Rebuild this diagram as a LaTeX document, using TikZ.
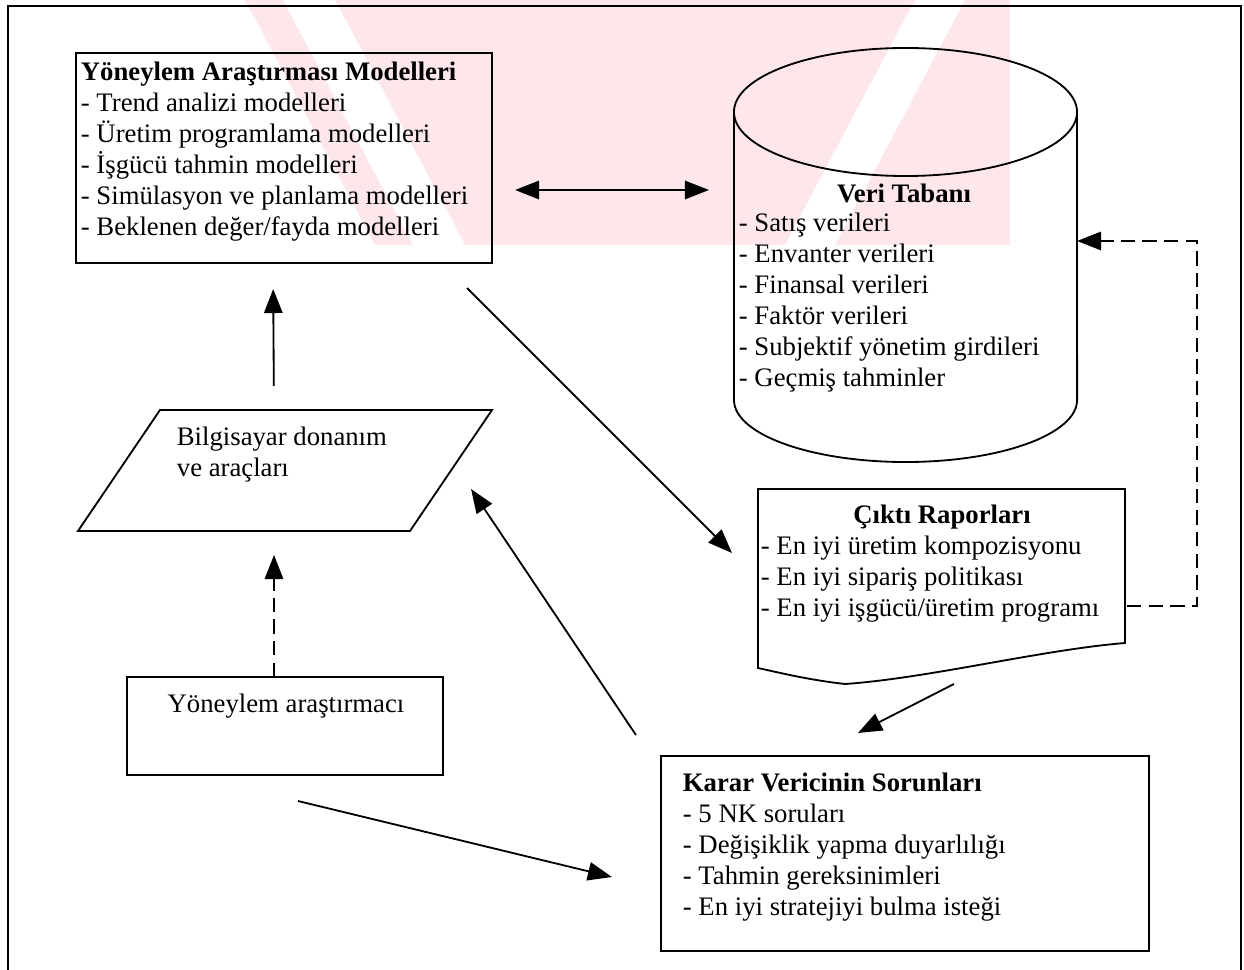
\documentclass[tikz,border=0pt]{standalone}
\usepackage{fontspec}
\setmainfont{Liberation Serif}
\usetikzlibrary{arrows.meta,calc}
\definecolor{wmpink}{RGB}{253,231,235}
\newcommand\mystrut{\rule{0pt}{18pt}}
\begin{document}
\begin{tikzpicture}[x=0.025cm,y=-0.025cm,
  line width=1.3pt,
  arr/.style={-{Triangle[length=0.6cm,width=0.46cm]}},
  darr/.style={{Triangle[length=0.6cm,width=0.46cm]}-{Triangle[length=0.6cm,width=0.46cm]}},
  dsh/.style={dash pattern=on 0.36cm off 0.18cm},
  hold/.style={inner sep=0pt, outer sep=0pt},
  box/.style={draw, inner sep=0pt, outer sep=0pt},
  txt/.style={inner sep=0pt, anchor=north west, align=left, font=\fontsize{19}{22}\selectfont},
  ctxt/.style={inner sep=0pt, anchor=north, align=center, font=\fontsize{19}{22}\selectfont},
]
\useasboundingbox (0,0) rectangle (1244,970);

% background emblem
\begin{scope}
  \clip (0,0) rectangle (1244,245);
  \fill[wmpink] (245,0) -- (1010,0) -- (1010,245) -- (375,245) -- cycle;
  \fill[white] (283,0) -- (335,0) -- (465,245) -- (413,245) -- cycle;
  \fill[white] (915,0) -- (965,0) -- (835,245) -- (785,245) -- cycle;
\end{scope}

% outer frame
\draw[line width=1.2pt] (8,970) -- (8,6) -- (1241,6) -- (1241,970);

% boxes
\node[box, minimum width=10.4cm, minimum height=5.25cm] (ar) at (284,158) {};
\node[box, minimum width=7.9cm, minimum height=2.45cm] (yar) at (285,726) {};
\node[box, minimum width=12.2cm, minimum height=4.875cm] (karar) at (905,853.5) {};

% database cylinder
\node[hold, minimum width=8.575cm, minimum height=10.35cm] (db) at (905.5,255) {};
\draw (905.5,112) ellipse [x radius=4.2875cm, y radius=1.6cm];
\draw (734,112) -- (734,400) arc[start angle=180, end angle=360, x radius=4.2875cm, y radius=1.55cm] -- (1077,112);

% report document
\node[hold, minimum width=9.175cm, minimum height=4.875cm] (cik) at (941.5,586.5) {};
\draw[line join=miter] (758,668) -- (758,489) -- (1125,489) -- (1125,643)
  .. controls (1040,650) and (930,678) .. (845,684)
  .. controls (810,680) and (785,674) .. (758,668) -- cycle;

% hardware parallelogram
\node[hold, minimum width=10.35cm, minimum height=3.025cm] (par) at (285,470.5) {};
\draw (160,410) -- (492,410) -- (410,531) -- (78,531) -- cycle;

% texts
\node[txt] (arT) at (80,54.7) {\mystrut\textbf{Yöneylem Araştırması Modelleri}\\
- Trend analizi modelleri\\
- Üretim programlama modelleri\\
- İşgücü tahmin modelleri\\
- Simülasyon ve planlama modelleri\\
- Beklenen değer/fayda modelleri};

\node[ctxt] (dbT) at (904,176.7) {\mystrut\textbf{Veri Tabanı}};
\node[txt] (dbL) at (738,205.7) {\mystrut- Satış verileri\\
- Envanter verileri\\
- Finansal verileri\\
- Faktör verileri\\
- Subjektif yönetim girdileri\\
- Geçmiş tahminler};

\node[ctxt] (cikT) at (942,497.7) {\mystrut\textbf{Çıktı Raporları}};
\node[txt] (cikL) at (760,528.7) {\mystrut- En iyi üretim kompozisyonu\\
- En iyi sipariş politikası\\
- En iyi işgücü/üretim programı};

\node[txt] (parT) at (176,419.7) {\mystrut Bilgisayar donanım\\ve araçları};

\node[ctxt] (yarT) at (286,686.7) {\mystrut Yöneylem araştırmacı};

\node[txt] (kararT) at (682,765.7) {\mystrut\textbf{Karar Vericinin Sorunları}\\
- 5 NK soruları\\
- Değişiklik yapma duyarlılığı\\
- Tahmin gereksinimleri\\
- En iyi stratejiyi bulma isteği};

% connectors
\draw[arr, shorten <=0.6cm, shorten >=0.65cm] ([xshift=-0.275cm]par.north) -- ([xshift=-0.275cm]ar.south);
\draw[arr, dsh, shorten >=0.6cm] ([xshift=-0.275cm]yar.north) -- ([xshift=-0.275cm]par.south);
\draw[darr, shorten <=0.575cm, shorten >=0.625cm] ([yshift=-0.8cm]ar.east) -- ([yshift=1.625cm]db.west);
\draw[arr] ([xshift=-0.625cm,yshift=-0.625cm]ar.south east) -- ([xshift=-0.65cm,yshift=0.8375cm]cik.west);
\draw[arr, dsh] ([xshift=0.05cm,yshift=-0.4875cm]cik.east) -- ++(70,0) |- ([yshift=0.35cm]db.east);
\draw[arr] ([xshift=0.31cm]cik.south) -- ([xshift=-1.175cm,yshift=0.575cm]karar.north);
\draw[arr] ([xshift=-0.625cm,yshift=0.525cm]karar.north west) -- ([xshift=-0.525cm,yshift=-0.4625cm]par.east);
\draw[arr] ([xshift=0.325cm,yshift=-0.65cm]yar.south) -- ([xshift=-1.225cm,yshift=-0.5875cm]karar.west);
\end{tikzpicture}
\end{document}
